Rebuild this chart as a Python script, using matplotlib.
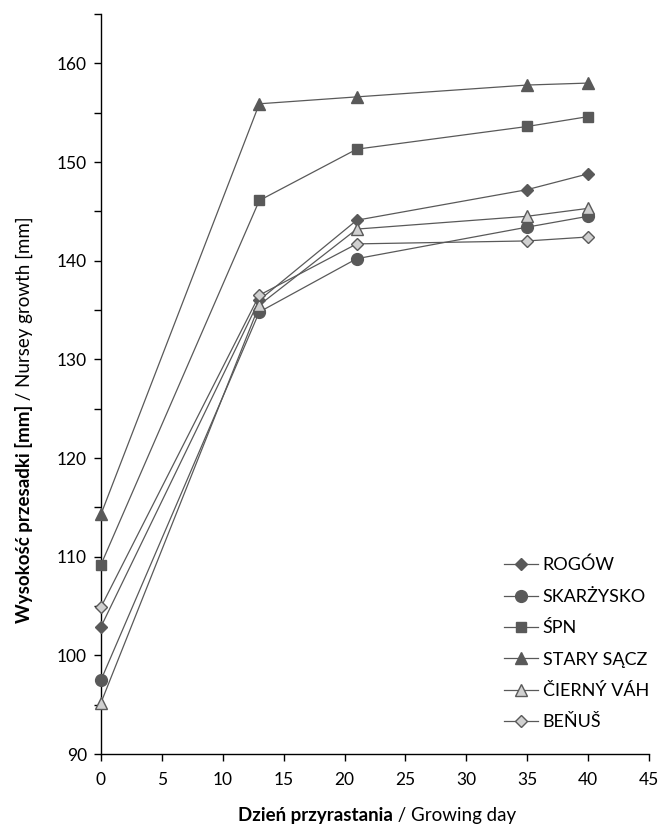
import matplotlib
matplotlib.use("Agg")
import matplotlib.pyplot as plt
from matplotlib.ticker import MultipleLocator

plt.rcParams['font.family'] = ['Lato', 'DejaVu Sans']

days = [0, 13, 21, 35, 40]

series_names = ["ROGÓW", "SKARŻYSKO", "ŚPN", "STARY SĄCZ", "ČIERNÝ VÁH", "BEŇUŠ"]
rogow = [102.9, 136.0, 144.1, 147.2, 148.8]
skarzysko = [97.5, 134.8, 140.2, 143.4, 144.5]
spn = [109.2, 146.1, 151.3, 153.6, 154.6]
stary_sacz = [114.3, 155.9, 156.6, 157.8, 158.0]
cierny_vah = [95.2, 135.5, 143.2, 144.5, 145.3]
benus = [104.9, 136.5, 141.7, 142.0, 142.4]

W, H = 660, 832
fig = plt.figure(figsize=(W / 100, H / 100), dpi=100)
ax = fig.add_axes([101 / W, (H - 754) / H, (649 - 101) / W, (754 - 14) / H])

dark = "#595959"
light = "#d0d0d0"

styles = [
    (rogow, "D", 6, dark),
    (skarzysko, "o", 8.5, dark),
    (spn, "s", 7.5, dark),
    (stary_sacz, "^", 8, dark),
    (cierny_vah, "^", 8, light),
    (benus, "D", 6, light),
]

for name, (vals, mk, ms, fc) in zip(series_names, styles):
    ax.plot(days, vals, color=dark, lw=0.9, marker=mk, markersize=ms,
            markerfacecolor=fc, markeredgecolor=dark, markeredgewidth=1,
            label=name, clip_on=False, zorder=3)

ax.set_xlim(0, 45)
ax.set_ylim(90, 165)
ax.xaxis.set_major_locator(MultipleLocator(5))
ax.set_yticks([90, 100, 110, 120, 130, 140, 150, 160])
ax.yaxis.set_minor_locator(MultipleLocator(5))
ax.tick_params(axis="both", direction="out", length=5, width=1, labelsize=12.5,
               color="black", pad=5)
ax.tick_params(axis="y", which="minor", direction="out", length=5, width=1)
ax.tick_params(axis="x", pad=8)

for s in ["top", "right"]:
    ax.spines[s].set_visible(False)
for s in ["left", "bottom"]:
    ax.spines[s].set_color("black")
    ax.spines[s].set_linewidth(1)

ax.legend(loc="upper left", bbox_to_anchor=(504 / W, 1 - 557 / H),
          bbox_transform=fig.transFigure, frameon=False, fontsize=13,
          handlelength=1.9, handletextpad=0.25, labelspacing=0.85,
          borderpad=0, borderaxespad=0)

# axis titles: bold Polish part, regular English part
fig.canvas.draw()
r = fig.canvas.get_renderer()

fs = 13.5
bx = fig.text(0, 0, "Dzień przyrastania", fontsize=fs, fontweight="bold")
rx = fig.text(0, 0, " / Growing day", fontsize=fs)
wb = bx.get_window_extent(r).width
wr = rx.get_window_extent(r).width
cx, cy = 377, H - 815
x0 = cx - (wb + wr) / 2
bx.set_position((x0 / W, cy / H))
bx.set_va("center")
rx.set_position(((x0 + wb) / W, cy / H))
rx.set_va("center")

by = fig.text(0, 0, "Wysokość przesadki [mm]", fontsize=fs, fontweight="bold",
              rotation=90)
ry = fig.text(0, 0, " / Nursey growth [mm]", fontsize=fs, rotation=90)
hb = by.get_window_extent(r).height
hr = ry.get_window_extent(r).height
lx, ly = 24, H - 420
y0 = ly - (hb + hr) / 2
by.set_position((lx / W, y0 / H))
by.set_ha("center")
by.set_va("bottom")
ry.set_position((lx / W, (y0 + hb) / H))
ry.set_ha("center")
ry.set_va("bottom")

fig.savefig("out.png", dpi=100)
